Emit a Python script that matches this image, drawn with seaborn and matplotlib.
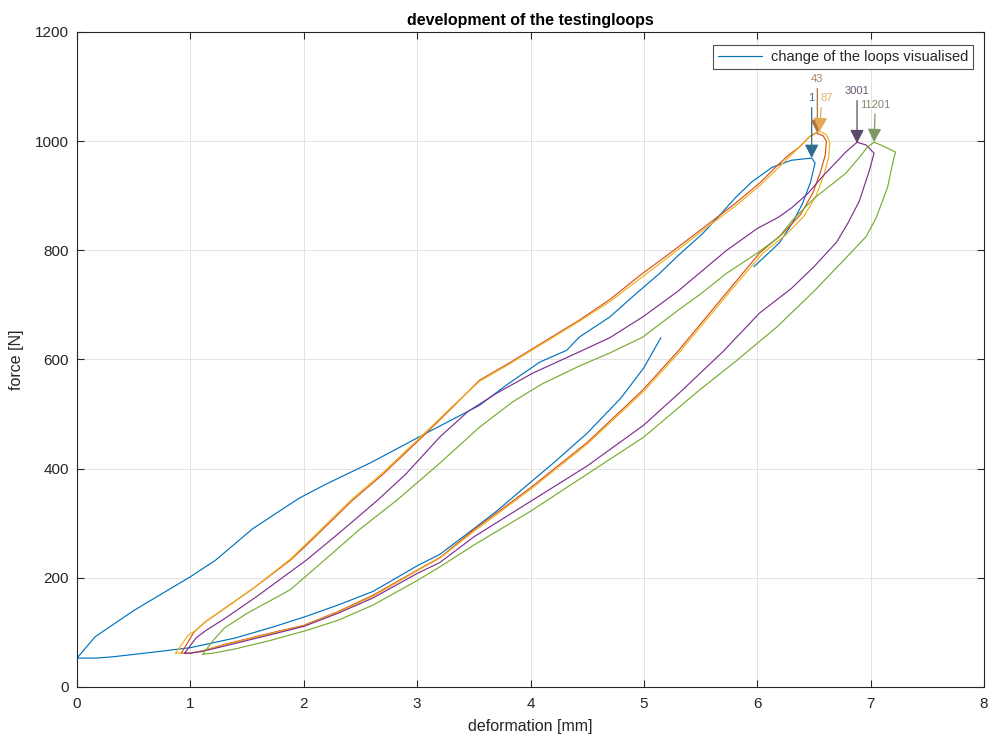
import matplotlib
matplotlib.use("Agg")
import matplotlib.pyplot as plt
import seaborn as sns
import pandas as pd

# ---------------- data ----------------
# cycle 1 (blue)
c1_x = [5.15, 5.0, 4.8, 4.5, 4.2, 4.0, 3.7, 3.5, 3.2, 3.0, 2.61, 2.3, 2.03, 1.73, 1.4, 1.0, 0.6, 0.3, 0.17, 0.0,
        0.0, 0.16, 0.5, 1.0, 1.22, 1.55, 1.96, 2.2, 2.6, 3.08, 3.55, 3.8, 4.08, 4.32, 4.43, 4.7, 4.9, 5.14, 5.3,
        5.52, 5.65, 5.81, 5.95, 6.13, 6.3, 6.48, 6.51, 6.47, 6.4, 6.31, 6.2, 6.1, 5.97]
c1_y = [640, 585, 530, 465, 410, 375, 322, 290, 243, 222, 175, 150, 130, 110, 90, 72, 62, 55, 53, 53,
        53, 92, 140, 202, 232, 290, 346, 372, 412, 465, 516, 555, 595, 617, 641, 678, 715, 758, 790,
        831, 860, 897, 925, 952, 965, 969, 960, 925, 886, 850, 815, 795, 770]

# cycle 43 (orange)
c43_x = [0.92, 1.03, 1.13, 1.55, 1.88, 2.0, 2.43, 2.7, 3.08, 3.3, 3.55, 3.8, 4.02, 4.43, 4.7, 4.99, 5.2, 5.58,
         5.8, 6.02, 6.19, 6.28, 6.37, 6.46, 6.52, 6.58, 6.61, 6.6, 6.56, 6.49, 6.38, 6.22, 6.02, 5.8, 5.58, 5.3,
         4.99, 4.5, 4.0, 3.5, 3.2, 3.0, 2.61, 2.3, 2.0, 1.73, 1.3, 1.1, 1.0, 0.92]
c43_y = [62, 100, 119, 180, 232, 255, 342, 390, 465, 510, 562, 592, 620, 672, 710, 758, 790, 850,
         885, 923, 958, 975, 989, 1008, 1015, 1010, 1000, 975, 945, 905, 865, 830, 795, 740, 685, 615,
         544, 448, 365, 288, 237, 214, 168, 138, 113, 100, 78, 66, 62, 62]

# cycle 87 (yellow)
c87_x = [0.87, 0.98, 1.05, 1.13, 1.55, 1.88, 2.0, 2.43, 2.7, 3.08, 3.3, 3.55, 3.8, 4.02, 4.43, 4.7, 4.99, 5.2,
         5.58, 5.8, 6.02, 6.19, 6.3, 6.4, 6.48, 6.55, 6.61, 6.64, 6.63, 6.59, 6.52, 6.41, 6.25, 6.05, 5.83, 5.6,
         5.32, 5.0, 4.5, 4.0, 3.5, 3.2, 3.0, 2.61, 2.3, 2.0, 1.73, 1.3, 1.1, 1.0, 0.87]
c87_y = [62, 95, 104, 119, 180, 234, 258, 345, 393, 468, 512, 560, 590, 618, 670, 706, 752, 785,
         846, 880, 918, 952, 975, 995, 1012, 1018, 1012, 998, 970, 940, 900, 862, 828, 795, 742, 685,
         615, 542, 445, 362, 285, 236, 213, 166, 137, 112, 99, 77, 66, 62, 62]

# cycle 3001 (purple)
c3001_x = [0.95, 1.05, 1.14, 1.3, 1.58, 2.02, 2.3, 2.65, 2.9, 3.2, 3.45, 3.7, 4.02, 4.43, 4.7, 4.99, 5.3, 5.5,
           5.73, 6.0, 6.19, 6.31, 6.45, 6.57, 6.68, 6.78, 6.88, 6.96, 7.03, 6.99, 6.9, 6.8, 6.7, 6.5, 6.3, 6.02,
           5.7, 5.34, 5.0, 4.5, 4.0, 3.5, 3.2, 3.0, 2.61, 2.3, 2.0, 1.73, 1.3, 1.1, 1.0, 0.95]
c3001_y = [62, 90, 104, 125, 165, 232, 280, 342, 390, 458, 505, 538, 575, 614, 640, 678, 725, 760,
           800, 840, 861, 879, 905, 934, 958, 980, 998, 993, 978, 947, 890, 850, 815, 770, 730, 685,
           615, 544, 480, 405, 340, 275, 228, 208, 163, 135, 111, 97, 75, 65, 62, 62]

# cycle 11201 (green)
c11201_x = [1.11, 1.2, 1.3, 1.5, 1.88, 2.18, 2.5, 2.82, 3.2, 3.55, 3.84, 4.1, 4.43, 4.7, 4.99, 5.3, 5.5, 5.73,
            6.0, 6.19, 6.31, 6.5, 6.78, 6.9, 6.97, 7.03, 7.1, 7.22, 7.2, 7.15, 7.05, 6.96, 6.8, 6.5, 6.17, 5.8,
            5.49, 5.0, 4.5, 4.0, 3.5, 3.2, 3.0, 2.61, 2.3, 2.03, 1.7, 1.4, 1.2, 1.11]
c11201_y = [60, 85, 108, 135, 178, 232, 290, 342, 410, 476, 522, 555, 588, 612, 641, 690, 720, 758,
            795, 824, 855, 895, 941, 970, 989, 998, 992, 980, 965, 916, 860, 825, 790, 725, 659, 595,
            544, 458, 390, 322, 260, 220, 195, 150, 122, 104, 85, 70, 62, 60]

cycle_labels = ["1", "43", "87", "3001", "11201"]
peak_x = [6.48, 6.53, 6.55, 6.88, 7.03]
peak_y = [969, 1015, 1018, 996, 998]
label_x = [6.48, 6.53, 6.61, 6.88, 7.04]
label_y = [1070, 1105, 1070, 1083, 1058]

x_ticks = [0, 1, 2, 3, 4, 5, 6, 7, 8]
y_ticks = [0, 200, 400, 600, 800, 1000, 1200]

# ---------------- styling ----------------
line_colors = ["#0072BD", "#D95319", "#EDB120", "#7E2F8E", "#77AC30"]
marker_colors = ["#2e6c8c", "#b07540", "#e3a953", "#5c4a6c", "#7d9a66"]
text_colors = ["#3e6e8e", "#a88060", "#e3b06a", "#6a5a78", "#808a70"]
arrow_relpos = [(0.5, 0.0), (0.5, 0.0), (0.1, 0.0), (0.5, 0.0), (0.5, 0.0)]

sns.set_theme(style="whitegrid")
plt.rcParams["font.family"] = ["Liberation Sans", "DejaVu Sans"]

fig = plt.figure(figsize=(9.88, 7.36), dpi=100)
ax = fig.add_axes([77 / 988, 1 - 687 / 736, (984 - 77) / 988, (687 - 32) / 736])
ax.set_facecolor("white")

loops = [(c1_x, c1_y), (c43_x, c43_y), (c87_x, c87_y), (c3001_x, c3001_y), (c11201_x, c11201_y)]
for i, (lx, ly) in enumerate(loops):
    df = pd.DataFrame({"x": lx, "y": ly})
    sns.lineplot(data=df, x="x", y="y", sort=False, estimator=None, ax=ax,
                 color=line_colors[i], linewidth=0.85,
                 label="change of the loops visualised" if i == 0 else None,
                 legend=(i == 0))

for i in range(len(cycle_labels)):
    ax.annotate(cycle_labels[i], xy=(peak_x[i], peak_y[i]), xytext=(label_x[i], label_y[i]),
                ha="center", va="bottom", fontsize=8, color=text_colors[i],
                arrowprops=dict(arrowstyle="-|>,head_length=0.75,head_width=0.38",
                                color=marker_colors[i], lw=0.9, shrinkA=1, shrinkB=0,
                                mutation_scale=11, relpos=arrow_relpos[i]))

ax.set_xlim(0, 8)
ax.set_ylim(0, 1200)
ax.set_xticks(x_ticks)
ax.set_yticks(y_ticks)
ax.tick_params(axis="both", which="both", direction="in", length=5, width=0.8,
               labelsize=11, colors="#262626", top=True, right=True, bottom=True, left=True)
ax.tick_params(axis="x", pad=7)
ax.tick_params(axis="y", pad=6)
ax.grid(True, color="#e3e3e3", linewidth=0.7)
for sp in ax.spines.values():
    sp.set_visible(True)
    sp.set_color("#262626")
    sp.set_linewidth(0.8)

ax.set_xlabel("deformation [mm]", fontsize=11.5, color="#262626", labelpad=6)
ax.set_ylabel("force [N]", fontsize=11.5, color="#262626", labelpad=8)
ax.set_title("development of the testingloops", fontsize=11.5, fontweight="bold", color="black", pad=5)

leg = ax.legend(loc="upper right", bbox_to_anchor=(0.988, 0.980), borderaxespad=0,
                fontsize=10.5, frameon=True, fancybox=False, handlelength=3.0,
                borderpad=0.35, handletextpad=0.6)
leg.get_frame().set_edgecolor("#262626")
leg.get_frame().set_linewidth(0.8)

fig.savefig("out.png", dpi=100, facecolor="white")
